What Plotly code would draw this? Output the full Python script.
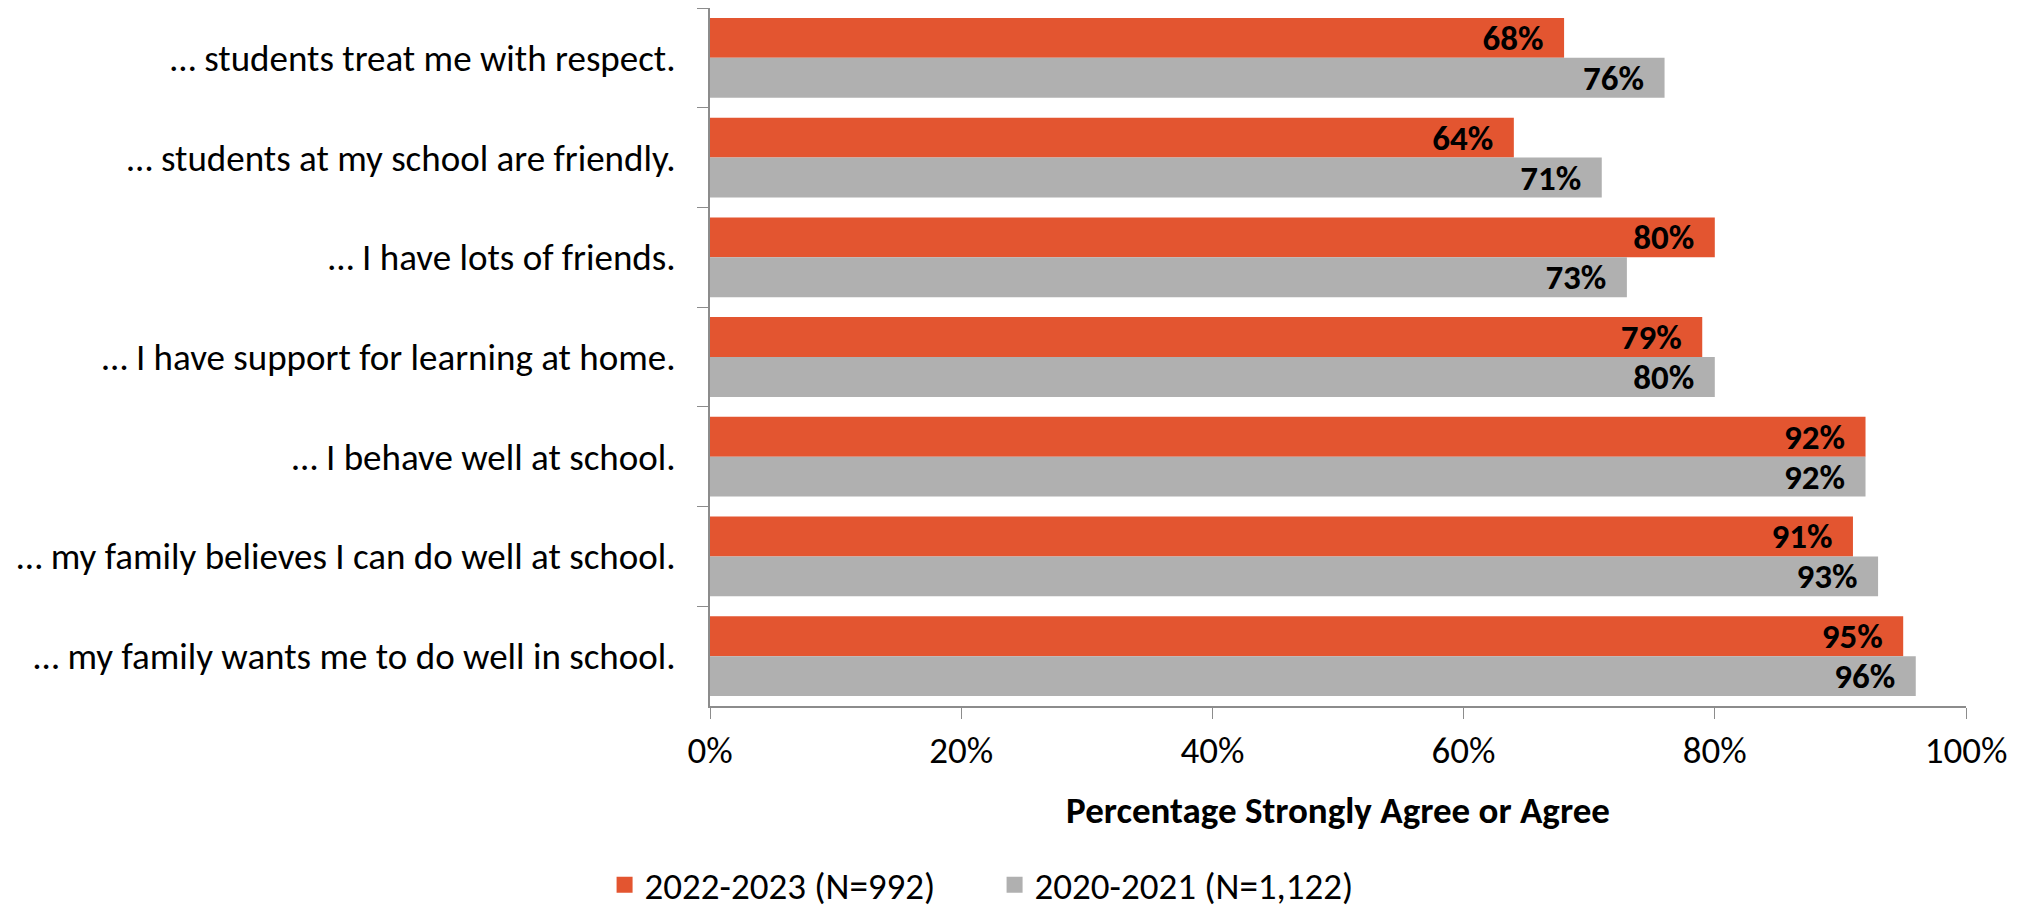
import plotly.graph_objects as go

statements = [
    "… students treat me with respect.",
    "… students at my school are friendly.",
    "… I have lots of friends.",
    "… I have support for learning at home.",
    "… I behave well at school.",
    "… my family believes I can do well at school.",
    "… my family wants me to do well in school.",
]
pct_2022_23 = [68, 64, 80, 79, 92, 91, 95]
pct_2020_21 = [76, 71, 73, 80, 92, 93, 96]
series_names = ["2022-2023 (N=992)", "2020-2021 (N=1,122)"]

FONT = "Carlito, Calibri, Lato, sans-serif"
ORANGE = "#E35530"
GREY = "#B0B0B0"

fig = go.Figure()
for name, vals, col in [(series_names[0], pct_2022_23, ORANGE),
                        (series_names[1], pct_2020_21, GREY)]:
    fig.add_trace(go.Bar(
        y=statements, x=vals, name=name, orientation="h",
        marker=dict(color=col, line=dict(width=0)),
        text=[f"<b>{v}%</b>\u2002" for v in vals],
        texttemplate="%{text}", textposition="inside",
        insidetextanchor="end", constraintext="none",
        textfont=dict(family=FONT, size=35, color="black"),
        showlegend=False, cliponaxis=False,
    ))
    # legend entry with a bigger square swatch
    fig.add_trace(go.Scatter(
        x=[None], y=[None], mode="markers", name=name,
        marker=dict(symbol="square", size=24, color=col),
    ))

# the page body adds an 8px margin, so the margins below are shifted for it
fig.update_layout(
    width=2030, height=910,
    barmode="group", bargap=0.2, bargroupgap=0,
    plot_bgcolor="white", paper_bgcolor="white",
    font=dict(family=FONT, size=37, color="black"),
    margin=dict(l=702, r=72, t=0, b=212),
    legend=dict(orientation="h", xref="container", yref="container",
                x=0.486, xanchor="center", y=0.036, yanchor="middle",
                font=dict(size=37), traceorder="normal",
                itemwidth=30, entrywidth=345),
)
fig.update_xaxes(
    range=[0, 100], dtick=20, ticksuffix="%", showgrid=False,
    showline=True, linecolor="#8C8C8C", linewidth=2,
    ticks="outside", ticklen=11, tickcolor="#8C8C8C", tickwidth=1,
    ticklabelstandoff=0,
    title=dict(text="<b>Percentage Strongly Agree or Agree</b>", standoff=25,
               font=dict(size=37)),
    zeroline=False,
)
fig.update_yaxes(
    autorange="reversed", showgrid=False,
    showline=True, linecolor="#8C8C8C", linewidth=2,
    ticks="outside", ticklen=11, tickcolor="#8C8C8C", tickwidth=1,
    tickson="boundaries", ticklabelstandoff=25,
)

fig.write_html("out.html")
